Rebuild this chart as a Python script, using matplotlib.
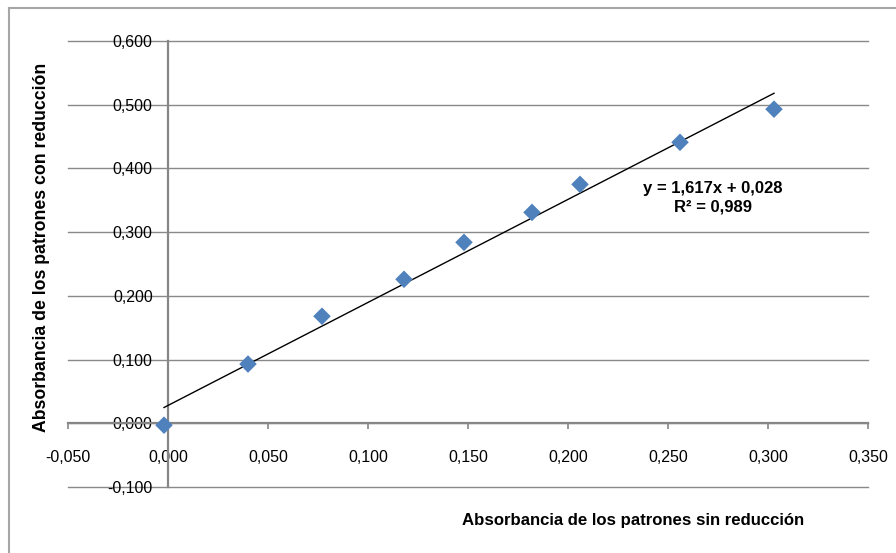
import matplotlib.pyplot as plt
from matplotlib.lines import Line2D
from matplotlib.ticker import FuncFormatter
import numpy as np

plt.rcParams["font.family"] = ["Liberation Sans", "DejaVu Sans"]

# absorbance of the standards, without / with reduction
abs_sin = [-0.002, 0.040, 0.077, 0.118, 0.148, 0.182, 0.206, 0.256, 0.303]
abs_con = [-0.003, 0.093, 0.168, 0.226, 0.284, 0.331, 0.375, 0.441, 0.493]

# linear trendline as reported on the chart
slope = 1.617
intercept = 0.028
r2 = 0.989

x_ticks = np.arange(-0.05, 0.351, 0.05)
y_ticks = np.arange(-0.1, 0.601, 0.1)

grid_color = "#898989"
axis_color = "#868686"
point_color = "#4F81BD"

W, H = 896, 553
fig = plt.figure(figsize=(W / 100, H / 100), dpi=100)
ax = fig.add_axes([68 / W, 1 - 487 / H, 800 / W, 446 / H])

ax.set_xlim(-0.05, 0.35)
ax.set_ylim(-0.1, 0.6)

# horizontal gridlines at each y tick
for yv in y_ticks:
    ax.axhline(yv, color=grid_color, lw=1.0, zorder=1, clip_on=False)

for side in ["top", "right"]:
    ax.spines[side].set_visible(False)
ax.spines["bottom"].set_position(("data", 0))
ax.spines["left"].set_position(("data", 0))
for side in ["bottom", "left"]:
    ax.spines[side].set_color(axis_color)
    ax.spines[side].set_linewidth(1.6)
    ax.spines[side].set_zorder(2)

fmt = FuncFormatter(lambda v, _: f"{v:.3f}".replace(".", ",").replace("-0,000", "0,000"))
ax.set_xticks(x_ticks)
ax.set_yticks(y_ticks)
ax.xaxis.set_major_formatter(fmt)
ax.yaxis.set_major_formatter(fmt)
ax.tick_params(axis="x", direction="out", length=4, width=1.2, color=axis_color,
               pad=15, labelsize=11.5)
ax.tick_params(axis="y", length=0, pad=11, labelsize=11.5)

ax.scatter(abs_sin, abs_con, marker="D", s=80, color=point_color,
           edgecolors="none", zorder=4)

xs = np.array([min(abs_sin), max(abs_sin)])
ax.plot(xs, slope * xs + intercept, color="black", lw=1.0, zorder=3)

eq = f"y = {slope:.3f}x + {intercept:.3f}".replace(".", ",")
ax.text(0.2725, 0.369, eq, ha="center", va="center", fontsize=12,
        fontweight="bold", zorder=5)
ax.text(0.2725, 0.339, f"R² = {r2:.3f}".replace(".", ","), ha="center",
        va="center", fontsize=12, fontweight="bold", zorder=5)

fig.text(633 / W, 1 - 520 / H, "Absorbancia de los patrones sin reducción",
         ha="center", va="center", fontsize=12.1, fontweight="bold")
fig.text(42 / W, 1 - 247 / H, "Absorbancia de los patrones con reducción",
         ha="center", va="center", rotation=90, fontsize=12.7, fontweight="bold")

# chart area border (left and top edges)
fig.add_artist(Line2D([9 / W, 9 / W], [0, 1 - 8 / H], transform=fig.transFigure,
                      color="#a6a6a6", lw=1.5))
fig.add_artist(Line2D([9 / W, 1], [1 - 8 / H, 1 - 8 / H], transform=fig.transFigure,
                      color="#a6a6a6", lw=1.5))

fig.savefig("out.png", dpi=100)
